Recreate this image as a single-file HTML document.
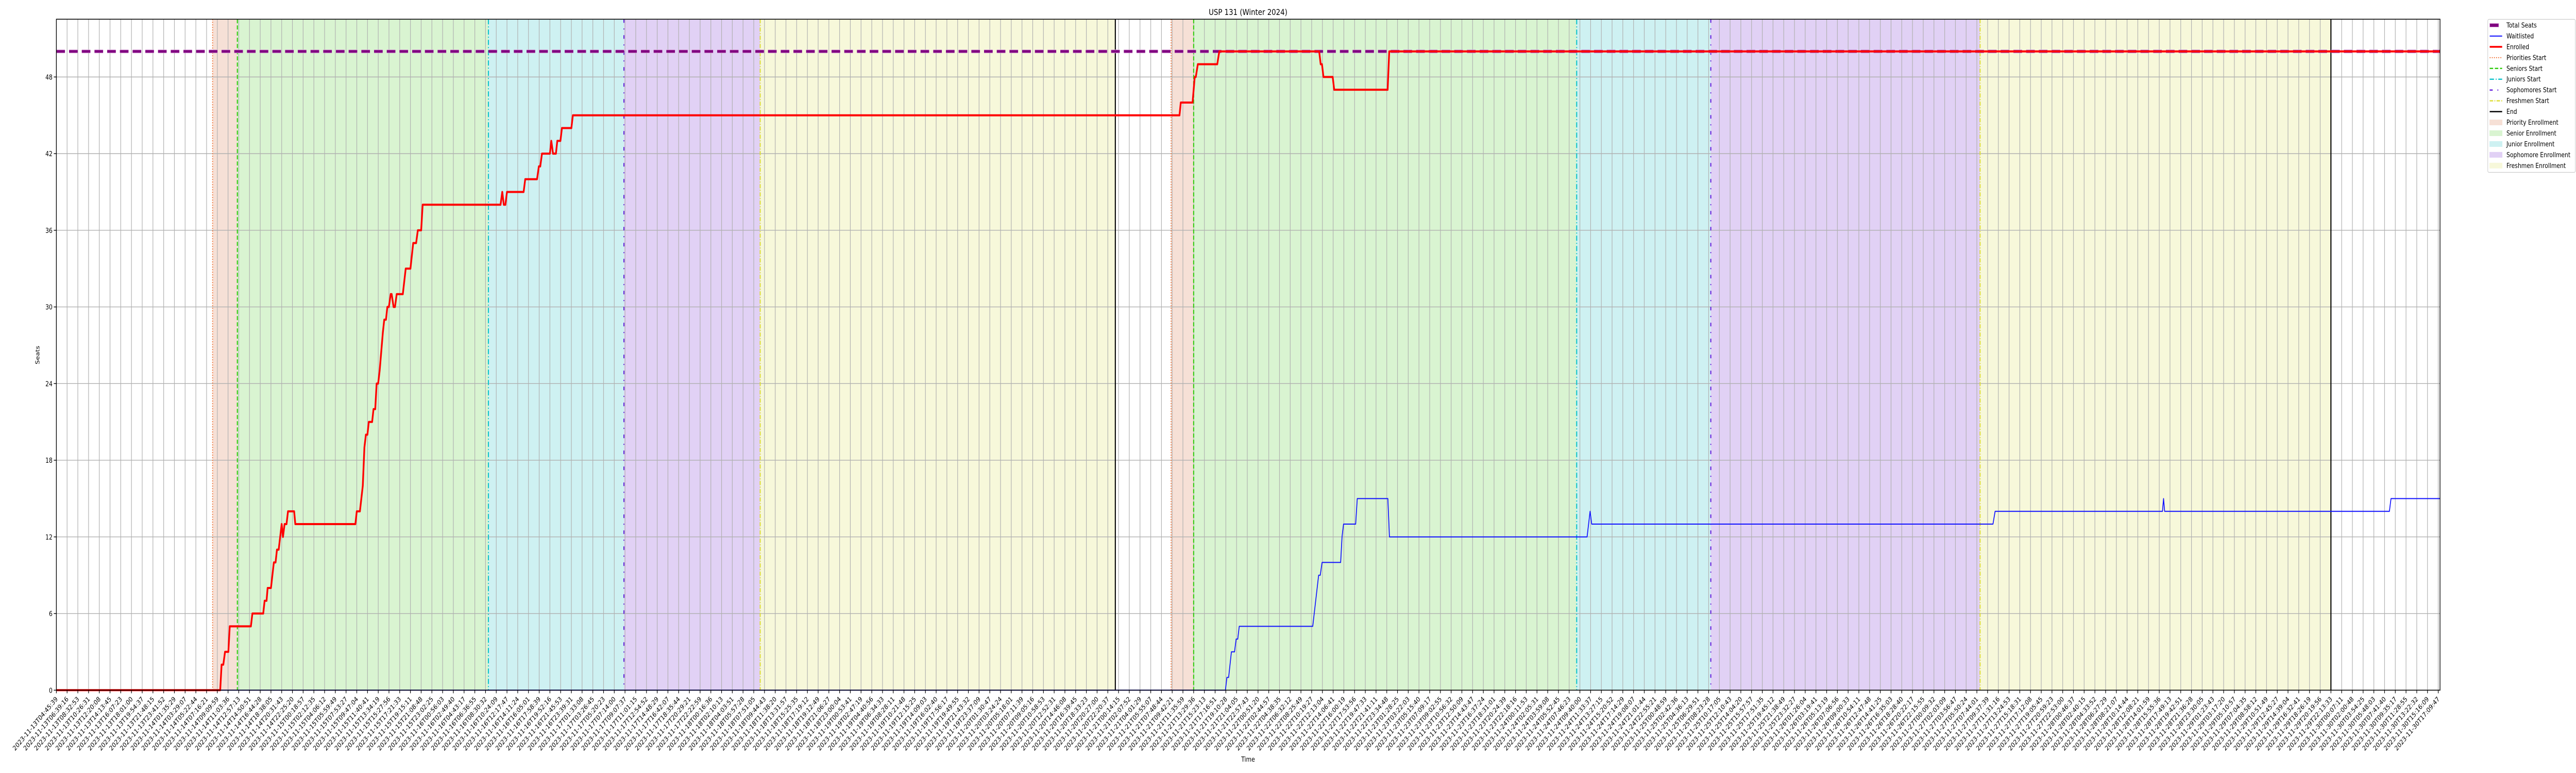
<!DOCTYPE html>
<html>
<head>
<meta charset="utf-8">
<style>
  html,body{margin:0;padding:0;background:#fff;width:100vw;height:100vh;overflow:hidden;}
  svg{display:block;position:absolute;left:0;top:0;width:100vw;height:100vh;font-family:"DejaVu Sans","Liberation Sans",sans-serif;}
</style>
</head>
<body>
<svg id="chart" viewBox="0 0 6000 1500" preserveAspectRatio="none" overflow="hidden" xmlns="http://www.w3.org/2000/svg">
  <rect x="0" y="0" width="6000" height="1500" fill="#fff"/>
  <text x="2907" y="29" font-size="16" text-anchor="middle" fill="#000">USP 131 (Winter 2024)</text>
  <text x="0" y="0" font-size="13" text-anchor="middle" fill="#000" transform="translate(92,689) rotate(-90)">Seats</text>
  <text x="2907" y="1478" font-size="13" text-anchor="middle" fill="#000">Time</text>
  <g id="shades"></g>
  <g id="grid"></g>
  <g id="vlines"></g>
  <g id="series"></g>
  <rect x="131.3" y="37.3" width="5552" height="1302" fill="none" stroke="#000" stroke-width="1.6"/>
  <g id="yticks"></g>
  <g id="xticks"></g>
  <g id="legend"></g>
</svg>
<script>
// ---- data (x in tick-index units, y in seats) ----
const yTicks = [0, 6, 12, 18, 24, 30, 36, 42, 48];
const totalSeats = 50;
const enrolledX = [0,15.27,15.40,15.56,15.72,16.03,16.16,18.13,18.27,19.28,19.41,19.59,19.69,20.0,20.27,20.43,20.56,20.72,21.0,21.12,21.27,21.45,21.59,22.16,22.27,27.87,28.0,28.29,28.56,28.71,28.85,28.99,29.12,29.43,29.56,29.72,29.85,29.99,30.13,30.43,30.56,30.72,30.85,30.99,31.16,31.25,31.43,31.56,31.72,32.29,32.56,33.0,33.26,33.53,33.69,34.0,34.14,41.4,41.56,41.7,41.85,42.0,43.55,43.7,44.8,44.97,45.1,45.26,46.0,46.13,46.29,46.56,46.69,46.98,47.12,48.0,48.14,104.68,104.8,105.9,106.1,106.2,106.39,108.2,108.39,117.7,117.84,117.96,118.1,118.96,119.1,124.08,124.23,222.16];
const enrolledY = [0,0,2,2,3,3,5,5,6,6,7,7,8,8,10,10,11,11,13,12,13,13,14,14,13,13,14,14,16,19,20,20,21,21,22,22,24,24,25,28,29,29,30,30,31,31,30,30,31,31,33,33,35,35,36,36,38,38,39,38,38,39,39,40,40,41,41,42,42,43,42,42,43,43,44,44,45,45,46,46,48,48,49,49,50,50,49,49,48,48,47,47,50,50];
const waitX = [0,108.96,109.1,109.26,109.52,109.81,109.96,110.11,110.25,117.1,117.65,117.8,117.97,119.7,119.83,119.97,121.1,121.25,124.1,124.25,142.67,142.95,143.1,180.5,180.7,196.3,196.4,196.5,217.45,217.6,222.16];
const waitY = [0,0,1,1,3,3,4,4,5,5,9,9,10,10,12,13,13,15,15,12,12,14,13,13,14,14,15,14,14,15,15];
const phaseNames = ["Priority Enrollment","Senior Enrollment","Junior Enrollment","Sophomore Enrollment","Freshmen Enrollment"];
const period1Starts = [14.56, 16.87, 40.27, 52.9, 65.6];
const period1End = 98.7;
const period2Starts = [103.9, 106.0, 141.7, 154.2, 179.3];
const period2End = 212.0;
const tickStart = "2023-11-13T04:45:39";
const tickEnd = "2023-11-30T17:09:47";
const tickCount = 223;
// tick labels
const tickLabels = [];
(function(){
  const a = Date.parse(tickStart+"Z"), b = Date.parse(tickEnd+"Z");
  for (let i=0;i<tickCount;i++){
    const t = new Date(a + (b-a)*i/(tickCount-1));
    tickLabels.push(t.toISOString().slice(0,19));
  }
})();

// ---- scales ----
const X0=131.3, XR=5683.3, Y0=1339.3, YT=37.3;
const xs = u => X0 + u*24.99;
const ys = v => Y0 - v*24.79;
const NS="http://www.w3.org/2000/svg";
function mk(tag, attrs, parent){
  const e=document.createElementNS(NS,tag);
  for(const k in attrs) e.setAttribute(k, attrs[k]);
  parent.appendChild(e); return e;
}
const shadeColors=["#f6e0d6","#d9f4d1","#cef1f2","#e1d1f5","#f7f8da"];
const lineStyles=[
  {c:"#f06a2a",w:2,d:"2 3"},
  {c:"#33cc11",w:2.5,d:"8 4"},
  {c:"#11c4cc",w:2.5,d:"10 4 2 4"},
  {c:"#6622dd",w:2.5,d:"7 11 2 11"},
  {c:"#dede3a",w:2.5,d:"8 3 2 3"}
];
const phaseKeys=["priority","senior","junior","sophomore","freshmen"];
const lineNames=["priorities-start","seniors-start","juniors-start","sophomores-start","freshmen-start"];

// shades
const shades=document.getElementById('shades');
[[period1Starts,period1End,1],[period2Starts,period2End,2]].forEach(([st,en,p])=>{
  for(let i=0;i<5;i++){
    const a=st[i], b=(i<4?st[i+1]:en);
    const r=mk('rect',{x:xs(a),y:YT,width:xs(b)-xs(a),height:Y0-YT,fill:shadeColors[i]},shades);
    
    
  }
});
// grid
const grid=document.getElementById('grid');
for(let i=0;i<tickCount;i++){
  const l=mk('line',{x1:xs(i),x2:xs(i),y1:YT,y2:Y0,stroke:"#b0b0b0","stroke-width":1.4},grid);
  
  
}
yTicks.forEach(v=>{
  const l=mk('line',{x1:X0,x2:XR,y1:ys(v),y2:ys(v),stroke:"#b0b0b0","stroke-width":1.4},grid);
  
  
});
// vertical marker lines
const vl=document.getElementById('vlines');
[[period1Starts,period1End,1],[period2Starts,period2End,2]].forEach(([st,en,p])=>{
  for(let i=0;i<5;i++){
    const s=lineStyles[i];
    const l=mk('line',{x1:xs(st[i]),x2:xs(st[i]),y1:YT,y2:Y0,stroke:s.c,"stroke-width":s.w,"stroke-dasharray":s.d},vl);
    
    
  }
  const e=mk('line',{x1:xs(en),x2:xs(en),y1:YT,y2:Y0,stroke:"#000","stroke-width":2.5},vl);
  
  
});
// series
const ser=document.getElementById('series');
const ts1=mk('line',{x1:X0,x2:XR,y1:ys(totalSeats),y2:ys(totalSeats),stroke:"#d9a6d9","stroke-width":7,"stroke-dasharray":"20 9.6"},ser);


const ts=mk('line',{x1:X0,x2:XR,y1:ys(totalSeats),y2:ys(totalSeats),stroke:"#800080","stroke-width":5,"stroke-dasharray":"20 9.6"},ser);


const wp=mk('polyline',{points:waitX.map((u,i)=>xs(u)+","+ys(waitY[i])).join(" "),fill:"none",stroke:"#1010ff","stroke-width":2,"stroke-linejoin":"round"},ser);


const ep=mk('polyline',{points:enrolledX.map((u,i)=>xs(u)+","+ys(enrolledY[i])).join(" "),fill:"none",stroke:"#ff0000","stroke-width":4,"stroke-linejoin":"round"},ser);


// y ticks
const yt=document.getElementById('yticks');
yTicks.forEach(v=>{
  const t=mk('line',{x1:X0-6,x2:X0,y1:ys(v),y2:ys(v),stroke:"#000","stroke-width":1.4},yt);
  
  
  const tx=mk('text',{x:X0-9,y:ys(v)+5,"font-size":13,"text-anchor":"end",fill:"#000"},yt);
  tx.textContent=String(v);
  
  
});
// x ticks
const xt=document.getElementById('xticks');
for(let i=0;i<tickCount;i++){
  const x=xs(i);
  const t=mk('line',{x1:x,x2:x,y1:Y0,y2:Y0+6,stroke:"#000","stroke-width":1.4},xt);
  
  
  const tx=mk('text',{x:0,y:0,"font-size":13,"text-anchor":"end",fill:"#000",transform:"translate("+(x+4)+","+(Y0+18)+") rotate(-45)"},xt);
  tx.textContent=tickLabels[i];
  
  
}
// legend
const lg=document.getElementById('legend');
mk('rect',{x:5794.5,y:37.5,width:204,height:297,rx:3,fill:"#fff","fill-opacity":0.85,stroke:"#cccccc","stroke-width":1.2},lg);
const legendLabels=["Total Seats","Waitlisted","Enrolled","Priorities Start","Seniors Start","Juniors Start","Sophomores Start","Freshmen Start","End"].concat(phaseNames);
legendLabels.forEach((lab,i)=>{
  const cy=49+i*20.95;
  const g=mk('g',{},lg);
  
  
  if(i===0){
    mk('rect',{x:5799,y:cy-3.5,width:21,height:7,fill:"#800080",stroke:"#d9a6d9","stroke-width":1},g);
  } else if(i===1){
    mk('line',{x1:5799,x2:5828,y1:cy,y2:cy,stroke:"#1010ff","stroke-width":2},g);
  } else if(i===2){
    mk('line',{x1:5799,x2:5828,y1:cy,y2:cy,stroke:"#ff0000","stroke-width":3.5},g);
  } else if(i<8){
    const s=lineStyles[i-3];
    mk('line',{x1:5799,x2:5828,y1:cy,y2:cy,stroke:s.c,"stroke-width":s.w,"stroke-dasharray":s.d},g);
  } else if(i===8){
    mk('line',{x1:5799,x2:5828,y1:cy,y2:cy,stroke:"#000","stroke-width":2.5},g);
  } else {
    mk('rect',{x:5799,y:cy-5,width:29,height:10,fill:shadeColors[i-9],stroke:shadeColors[i-9]},g);
  }
  const tx=mk('text',{x:5838,y:cy+4.5,"font-size":13,fill:"#000"},g);
  tx.textContent=lab;
});
</script>
</body>
</html>
